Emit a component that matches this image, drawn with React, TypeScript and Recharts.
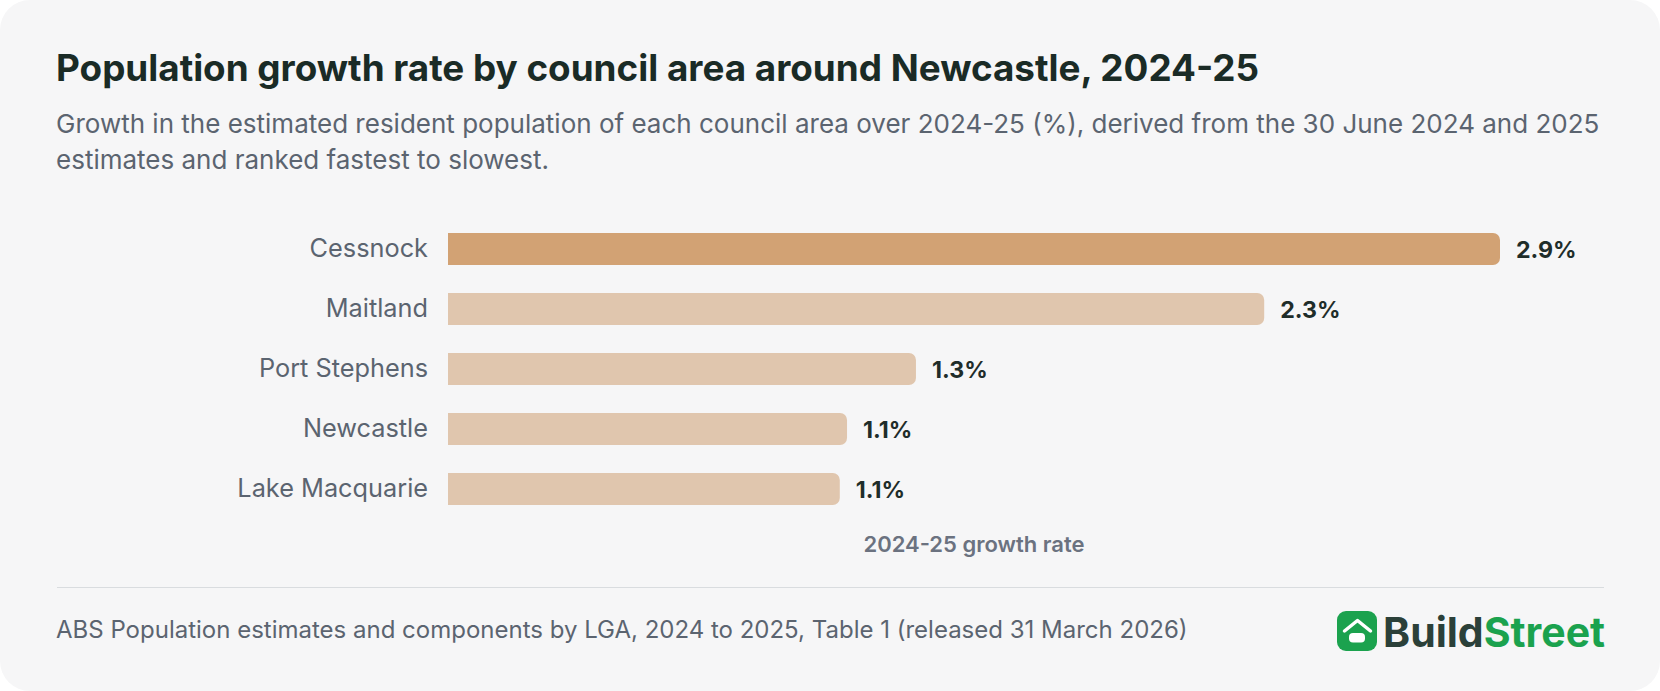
import React from 'react';
import { BarChart, Bar, XAxis, YAxis, Cell, LabelList } from 'recharts';

const councils = ['Cessnock', 'Maitland', 'Port Stephens', 'Newcastle', 'Lake Macquarie'];
const growthRates = [2.9, 2.25, 1.29, 1.1, 1.08];
const barColors = ['#d2a274', '#e0c6ae', '#e0c6ae', '#e0c6ae', '#e0c6ae'];

const rows = councils.map((name, i) => ({ name, rate: growthRates[i] }));

const FONT = 'Inter, sans-serif';

const App = () => (
  <div
    style={{
      position: 'fixed',
      left: 0,
      top: 0,
      width: 1660,
      height: 691,
      background: '#f6f6f7',
      borderRadius: 30,
      fontFamily: FONT,
      overflow: 'hidden',
    }}
  >
    <div style={{ position: 'absolute', left: 56, top: 43, fontSize: 36.85, fontWeight: 700, lineHeight: '50px', color: '#1a2b26', whiteSpace: 'nowrap' }}>
      Population growth rate by council area around Newcastle, 2024-25
    </div>
    <div style={{ position: 'absolute', left: 56, top: 106, width: 1570, fontSize: 26, lineHeight: '36px', color: '#5b6470' }}>
      Growth in the estimated resident population of each council area over 2024-25 (%), derived from the 30 June 2024 and 2025 estimates and ranked fastest to slowest.
    </div>

    <div style={{ position: 'absolute', left: 0, top: 0 }}>
      <BarChart
        width={1660}
        height={575}
        data={rows}
        layout="vertical"
        margin={{ top: 219, right: 160, bottom: 0, left: 0 }}
        barCategoryGap={14}
      >
        <XAxis
          type="number"
          domain={[0, 2.9]}
          tick={false}
          axisLine={false}
          tickLine={false}
          height={56}
          label={{ value: '2024-25 growth rate', position: 'insideBottom', offset: 23, fontSize: 22, fontWeight: 600, fill: '#6b7280', fontFamily: FONT }}
        />
        <YAxis
          type="category"
          dataKey="name"
          width={448}
          axisLine={false}
          tickLine={false}
          tickSize={0}
          tickMargin={20}
          tick={{ fontSize: 25.3, fill: '#5b6470', fontFamily: FONT, dy: -1 }}
        />
        <Bar dataKey="rate" radius={[0, 7, 7, 0]} isAnimationActive={false}>
          {rows.map((r, i) => (
            <Cell key={r.name} fill={barColors[i]} />
          ))}
          <LabelList
            dataKey="rate"
            position="right"
            offset={16}
            dy={1}
            formatter={(v: any) => `${Number(v).toFixed(1)}%`}
            style={{ fontSize: 23.2, fontWeight: 700, fill: '#1f2d2a', fontFamily: FONT }}
          />
        </Bar>
      </BarChart>
    </div>

    <div style={{ position: 'absolute', left: 57, top: 587, width: 1547, height: 1, background: '#d9dcdf' }} />
    <div style={{ position: 'absolute', left: 56, top: 612, fontSize: 24, lineHeight: '36px', color: '#5b6470', whiteSpace: 'nowrap' }}>
      ABS Population estimates and components by LGA, 2024 to 2025, Table 1 (released 31 March 2026)
    </div>

    <svg style={{ position: 'absolute', left: 1337, top: 611 }} width={40} height={40} viewBox="0 0 40 40">
      <rect width={40} height={40} rx={9} fill="#1ba24e" />
      <path d="M7.5 20 L20.5 9.5 L33.5 20" fill="none" stroke="#fff" strokeWidth={3.5} strokeLinecap="round" strokeLinejoin="round" />
      <rect x={12} y={22} width={16} height={9.5} rx={4} fill="#fff" />
    </svg>
    <div style={{ position: 'absolute', left: 1383, top: 608, fontSize: 41, fontWeight: 700, lineHeight: '48px', whiteSpace: 'nowrap' }}>
      <span style={{ color: '#2b4039' }}>Build</span>
      <span style={{ color: '#1ba24e' }}>Street</span>
    </div>
  </div>
);

export default App;
